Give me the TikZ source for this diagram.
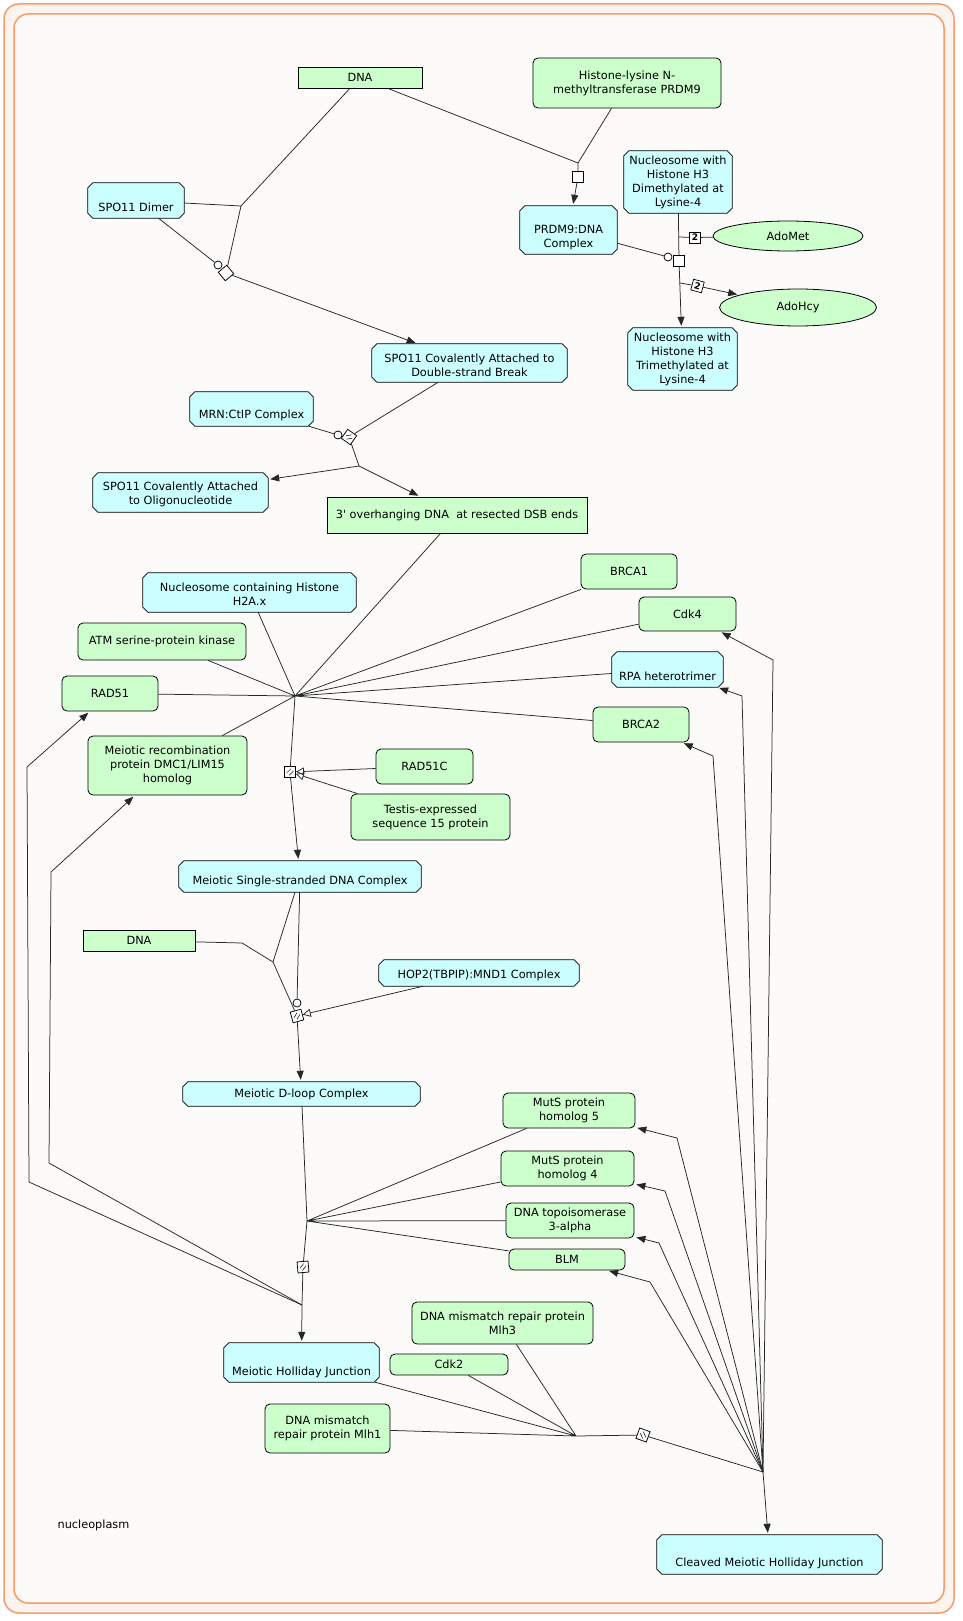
\documentclass[tikz,border=0pt]{standalone}
\usepackage{fontspec}
\setmainfont{DejaVu Sans}
\usetikzlibrary{arrows.meta,shapes.geometric,calc}

\definecolor{protfill}{HTML}{CCFFCC}
\definecolor{cplxfill}{HTML}{CCFFFF}
\definecolor{compline}{HTML}{FA9A68}
\definecolor{compband}{HTML}{FDF3EF}
\definecolor{compfill}{HTML}{FCFBFA}

\pgfdeclarelayer{complayer}
\pgfdeclarelayer{cplxlayer}
\pgfsetlayers{complayer,cplxlayer,main}

\tikzset{
  every node/.style={font=\fontsize{11.3}{14}\selectfont, text=black},
  txt/.style={align=center},
  prot/.style={draw, fill=protfill, rounded corners=5pt, line width=0.8pt, inner sep=0pt, align=center},
  cplx/.style={rectangle, inner sep=0pt, align=center},
  cplxline/.style={draw=black, fill=cplxfill, line width=0.8pt},
  dnabox/.style={draw, fill=protfill, rectangle, line width=0.8pt, inner sep=0pt, align=center},
  chem/.style={draw, fill=protfill, ellipse, line width=0.8pt, inner sep=0pt},
  conn/.style={line width=0.75pt, draw=black!85},
  arr/.style={conn, -{Triangle[length=9pt,width=7pt]}, shorten >=2pt},
  oarr/.style={conn, -{Triangle[open,length=8pt,width=8pt]}},
  rxn/.style={draw, fill=white, rectangle, minimum size=11pt, inner sep=0pt, line width=0.75pt},
  cat/.style={draw, fill=white, circle, minimum size=8pt, inner sep=0pt, line width=0.75pt},
  stoich/.style={draw, fill=white, rectangle, minimum width=11pt, minimum height=11pt, inner sep=0pt, line width=0.7pt, font=\bfseries\fontsize{9}{9}\selectfont},
  mk/.style={line width=0.5pt, draw=black},
}

% octagonal outline of a complex node (corners cut by 5pt)
\newcommand{\cplxoutline}[1]{%
  \draw[cplxline] ([xshift=5pt]#1.north west) -- ([xshift=-5pt]#1.north east)
    -- ([yshift=-5pt]#1.north east) -- ([yshift=5pt]#1.south east)
    -- ([xshift=-5pt]#1.south east) -- ([xshift=5pt]#1.south west)
    -- ([yshift=5pt]#1.south west) -- ([yshift=-5pt]#1.north west) -- cycle;}

\begin{document}
\begin{tikzpicture}[x=1pt, y=-1pt]
\useasboundingbox (0,0) rectangle (962,1621);

% compartment: nucleoplasm
\begin{pgfonlayer}{complayer}
\fill[white] (0,0) rectangle (962,1621);
\draw[compline, line width=1.5pt, fill=compband, rounded corners=15pt] (4,4) rectangle (954,1613);
\draw[compline, line width=1.5pt, fill=compfill, rounded corners=14pt] (14,14) rectangle (944,1603);
\end{pgfonlayer}
\node (comp) at (93.5,1525) {nucleoplasm};

% entities
\node[dnabox, minimum width=124pt, minimum height=21pt] (dnaA) at (360,77.5) {DNA};
\node[prot, minimum width=188pt, minimum height=50pt] (prdm) at (627,83) {Histone-lysine N-\\methyltransferase PRDM9};
\node[cplx, minimum width=96pt, minimum height=35pt, label={[yshift=-6.5pt]center:{SPO11 Dimer}}] (spo) at (136,200.5) {};
\node[cplx, minimum width=97pt, minimum height=48pt, label={[txt,yshift=-7pt]center:{PRDM9:DNA\\Complex}}] (prdmdna) at (568.5,230) {};
\node[cplx, minimum width=108pt, minimum height=62pt] (dimeth) at (678,182) {Nucleosome with\\Histone H3\\Dimethylated at\\Lysine-4};
\node[chem, minimum width=150pt, minimum height=30pt] (adomet) at (788,236) {AdoMet};
\node[chem, minimum width=157pt, minimum height=37pt] (adohcy) at (798,307.5) {AdoHcy};
\node[cplx, minimum width=109pt, minimum height=62pt] (trimeth) at (682.5,359) {Nucleosome with\\Histone H3\\Trimethylated at\\Lysine-4};
\node[cplx, minimum width=195pt, minimum height=38pt, label={[txt,yshift=-2pt]center:{SPO11 Covalently Attached to\\Double-strand Break}}] (spodsb) at (469.5,363) {};
\node[cplx, minimum width=123pt, minimum height=34pt, label={[yshift=-6pt]center:{MRN:CtIP Complex}}] (mrn) at (251.5,409) {};
\node[cplx, minimum width=175pt, minimum height=39pt, label={[txt,yshift=-1.5pt]center:{SPO11 Covalently Attached\\to Oligonucleotide}}] (spoolig) at (180.5,492.5) {};
\node[dnabox, minimum width=260pt, minimum height=36pt] (overhang) at (457,515) {3\textquotesingle{} overhanging DNA \ at resected DSB ends};
\node[cplx, minimum width=213pt, minimum height=39pt, label={[txt,yshift=-1.5pt]center:{Nucleosome containing Histone\\H2A.x}}] (h2ax) at (249.5,592.5) {};
\node[prot, minimum width=168pt, minimum height=37pt] (atm) at (162,641.5) {ATM serine-protein kinase};
\node[prot, minimum width=96pt, minimum height=35pt] (rad51) at (110,693.5) {RAD51};
\node[prot, minimum width=159pt, minimum height=59pt] (dmc1) at (167.5,765.5) {Meiotic recombination\\protein DMC1/LIM15\\homolog};
\node[prot, minimum width=97pt, minimum height=35pt] (rad51c) at (424.5,766.5) {RAD51C};
\node[prot, minimum width=159pt, minimum height=46pt] (testis) at (430.5,817) {Testis-expressed\\sequence 15 protein};
\node[prot, minimum width=96pt, minimum height=35pt] (brca1) at (629,571.5) {BRCA1};
\node[prot, minimum width=97pt, minimum height=34pt] (cdk4) at (687.5,614) {Cdk4};
\node[cplx, minimum width=111pt, minimum height=35pt, label={[yshift=-6.5pt]center:{RPA heterotrimer}}] (rpa) at (667.5,669.5) {};
\node[prot, minimum width=96pt, minimum height=35pt] (brca2) at (641,724.5) {BRCA2};
\node[cplx, minimum width=242pt, minimum height=31pt, label={[yshift=-4.5pt]center:{Meiotic Single-stranded DNA Complex}}] (msdna) at (300,876.5) {};
\node[dnabox, minimum width=112pt, minimum height=21pt] (dnaB) at (139,940.5) {DNA};
\node[cplx, minimum width=200pt, minimum height=26pt, label={[yshift=-2pt]center:{HOP2(TBPIP):MND1 Complex}}] (hop2) at (479,973) {};
\node[cplx, minimum width=237pt, minimum height=24pt] (dloop) at (301.5,1094) {Meiotic D-loop Complex};
\node[prot, minimum width=132pt, minimum height=35pt] (muts5) at (569,1110.5) {MutS protein\\homolog 5};
\node[prot, minimum width=133pt, minimum height=35pt] (muts4) at (567.5,1168.5) {MutS protein\\homolog 4};
\node[prot, minimum width=128pt, minimum height=35pt] (topo) at (570,1220.5) {DNA topoisomerase\\3-alpha};
\node[prot, minimum width=116pt, minimum height=21pt] (blm) at (567,1259.5) {BLM};
\node[prot, minimum width=181pt, minimum height=42pt] (mlh3) at (502.5,1323) {DNA mismatch repair protein\\Mlh3};
\node[prot, minimum width=118pt, minimum height=21pt] (cdk2) at (449,1364.5) {Cdk2};
\node[cplx, minimum width=155pt, minimum height=39pt, label={[yshift=-9.5pt]center:{Meiotic Holliday Junction}}] (mhj) at (301.5,1362.5) {};
\node[prot, minimum width=125pt, minimum height=49pt] (mlh1) at (327.5,1428.5) {DNA mismatch\\repair protein Mlh1};
\node[cplx, minimum width=225pt, minimum height=39pt, label={[yshift=-8.5pt]center:{Cleaved Meiotic Holliday Junction}}] (cleaved) at (769.5,1554.5) {};

% complex outlines, beneath the complex labels
\begin{pgfonlayer}{cplxlayer}
\cplxoutline{spo}
\cplxoutline{prdmdna}
\cplxoutline{dimeth}
\cplxoutline{trimeth}
\cplxoutline{spodsb}
\cplxoutline{mrn}
\cplxoutline{spoolig}
\cplxoutline{h2ax}
\cplxoutline{rpa}
\cplxoutline{msdna}
\cplxoutline{hop2}
\cplxoutline{dloop}
\cplxoutline{mhj}
\cplxoutline{cleaved}
\end{pgfonlayer}

% reaction: SPO11 cleaves DNA
\coordinate (j1) at (241,206);
\node[rxn, rotate=40] (r1) at (226,273) {};
\node[cat] (c1) at (218,265) {};
\draw[conn] (dnaA) -- (j1) (spo) -- (j1) (j1) -- (r1);
\draw[conn] (spo) -- (c1);
\draw[arr] (r1) -- (spodsb);

% reaction: PRDM9 binds DNA
\coordinate (j2) at (578,163);
\node[rxn] (r2) at (578,177) {};
\draw[conn] (dnaA) -- (j2) (prdm) -- (j2) (j2) -- (r2);
\draw[arr] (r2) -- (prdmdna);

% reaction: H3K4 trimethylation
\node[rxn] (r3) at (679,261) {};
\node[cat] (c3) at (668,257) {};
\coordinate (j3a) at (679,237);
\coordinate (j3b) at (680,283);
\node[stoich] (s1) at (695,237.5) {2};
\node[stoich, rotate=-15] (s2) at (697.5,286) {2};
\draw[conn] (dimeth) -- (r3);
\draw[conn] (adomet) -- (s1) -- (j3a);
\draw[conn] (prdmdna) -- (c3);
\draw[arr] (r3) -- (trimeth);
\draw[conn] (j3b) -- (s2);
\draw[arr] (s2) -- (adohcy);

% reaction: MRN:CtIP resection
\node[rxn, rotate=-35] (r4) at (349,437) {};
\node[cat] (c4) at (338,435) {};
\coordinate (j4) at (359,466);
\draw[conn] (spodsb) -- (r4) (mrn) -- (c4) (r4) -- (j4);
\draw[arr] (j4) -- (spoolig);
\draw[arr] (j4) -- (overhang);
\draw[mk, shift={(r4.center)}, rotate=-35] (-3.3,0.9) -- (0.9,-3.3) (-0.9,3.3) -- (3.3,-0.9);

% reaction: meiotic single-stranded DNA complex formation
\coordinate (j5) at (295,696);
\node[rxn] (r5) at (290,772) {};
\draw[conn] (overhang) -- (j5) (h2ax) -- (j5) (atm) -- (j5) (rad51) -- (j5) (dmc1) -- (j5)
  (brca1) -- (j5) (cdk4) -- (j5) (rpa) -- (j5) (brca2) -- (j5) (j5) -- (r5);
\draw[arr] (r5) -- (msdna);
\draw[oarr] (rad51c) -- (r5);
\draw[oarr] (testis) -- (r5);
\draw[mk, shift={(r5.center)}] (-3.3,0.9) -- (0.9,-3.3) (-0.9,3.3) -- (3.3,-0.9);

% reaction: strand invasion
\coordinate (j6) at (273,962);
\coordinate (b6) at (242,943);
\node[rxn, rotate=15] (r6) at (297,1016) {};
\node[cat] (c6) at (297,1003) {};
\draw[conn] (msdna) -- (j6) (dnaB) -- (b6) -- (j6) -- (r6);
\draw[conn] (msdna) -- (c6);
\draw[oarr] (hop2) -- (r6);
\draw[arr] (r6) -- (dloop);
\draw[mk, shift={(r6.center)}, rotate=15] (-3.3,0.9) -- (0.9,-3.3) (-0.9,3.3) -- (3.3,-0.9);

% reaction: Holliday junction formation
\coordinate (j7) at (307,1221);
\node[rxn, rotate=5] (r7) at (303,1267) {};
\coordinate (j7b) at (302,1305);
\coordinate (w1) at (29,1182);
\coordinate (w2) at (27,767);
\coordinate (w3) at (49,1163);
\coordinate (w4) at (51,872);
\draw[conn] (dloop) -- (j7) (muts5) -- (j7) (muts4) -- (j7) (topo) -- (j7) (blm) -- (j7)
  (j7) -- (r7) -- (j7b);
\draw[arr] (j7b) -- (mhj);
\draw[arr] (j7b) -- (w1) -- (w2) -- (rad51);
\draw[arr] (j7b) -- (w3) -- (w4) -- (dmc1);
\draw[mk, shift={(r7.center)}, rotate=5] (-3.3,0.9) -- (0.9,-3.3) (-0.9,3.3) -- (3.3,-0.9);

% reaction: Holliday junction resolution
\coordinate (j8) at (576,1436);
\node[rxn, rotate=-20] (r8) at (643,1435) {};
\coordinate (j8b) at (763,1472);
\coordinate (k1) at (773,660);
\coordinate (k2) at (742,696);
\coordinate (k3) at (713,756);
\coordinate (k4) at (677,1138);
\coordinate (k5) at (665,1191);
\coordinate (k6) at (659,1243);
\coordinate (k7) at (650,1282);
\draw[conn] (mhj) -- (j8) (mlh1) -- (j8) (cdk2) -- (j8) (mlh3) -- (j8) (j8) -- (r8) -- (j8b);
\draw[arr] (j8b) -- (cleaved);
\draw[arr] (j8b) -- (k1) -- (cdk4);
\draw[arr] (j8b) -- (k2) -- (rpa);
\draw[arr] (j8b) -- (k3) -- (brca2);
\draw[arr] (j8b) -- (k4) -- (muts5);
\draw[arr] (j8b) -- (k5) -- (muts4);
\draw[arr] (j8b) -- (k6) -- (topo);
\draw[arr] (j8b) -- (k7) -- (blm);
\draw[mk, shift={(r8.center)}, rotate=-20] (-3.3,-0.9) -- (0.9,3.3) (-0.9,-3.3) -- (3.3,0.9);
\end{tikzpicture}
\end{document}
